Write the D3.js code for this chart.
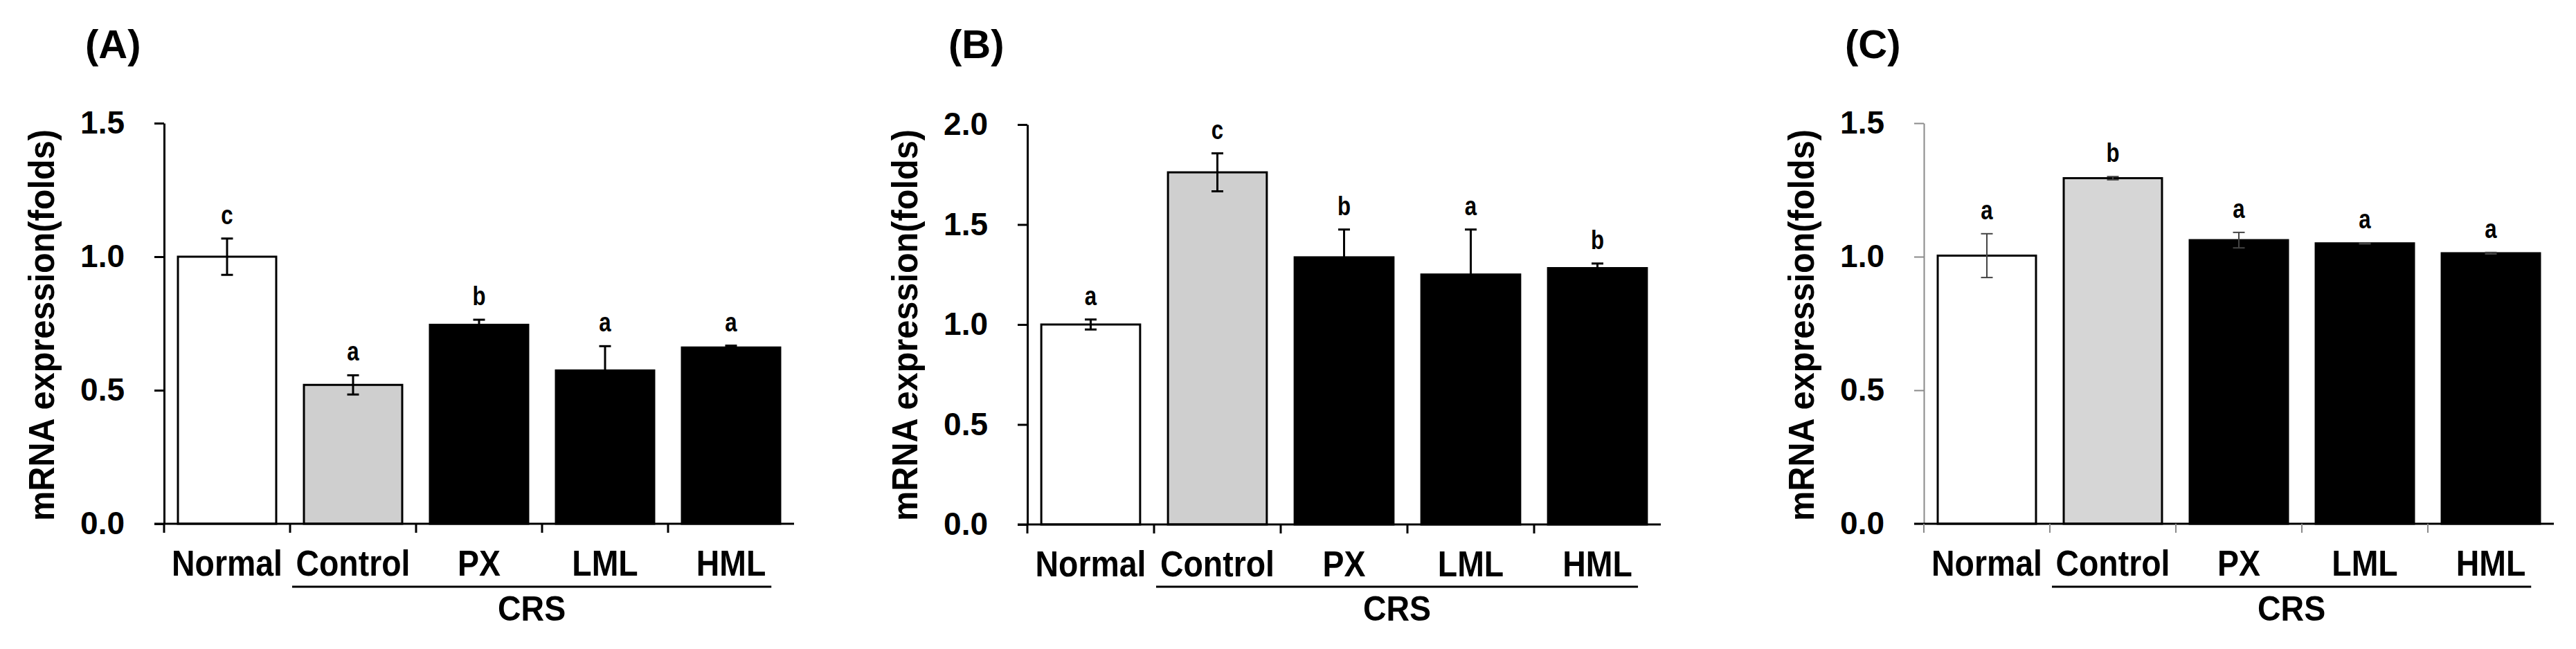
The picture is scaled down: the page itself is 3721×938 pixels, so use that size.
<!DOCTYPE html>
<html>
<head>
<meta charset="utf-8">
<script src="https://cdn.jsdelivr.net/npm/d3@7"></script>
<style>
  body { margin: 0; background: #fff; }
  text { font-family: "Liberation Sans", Arial, sans-serif; font-weight: bold; fill: #000; }
</style>
</head>
<body>
<div id="chart"></div>
<script>
// Données
const groups = ["Normal", "Control", "PX", "LML", "HML"];
const fills = ["#ffffff", "#d0d0d0", "#000000", "#000000", "#000000"];

const meanA = [1.00, 0.52, 0.745, 0.574, 0.66];
const errA = [0.068, 0.036, 0.019, 0.091, 0.007];
const letterA = ["c", "a", "b", "a", "a"];

const meanB = [1.00, 1.761, 1.336, 1.25, 1.282];
const errB = [0.025, 0.095, 0.139, 0.225, 0.023];
const letterB = ["a", "c", "b", "a", "b"];

const meanC = [1.004, 1.294, 1.062, 1.05, 1.013];
const errC = [0.082, 0.006, 0.029, 0.002, 0.003];
const letterC = ["a", "b", "a", "a", "a"];

const ticksA = [0, 0.5, 1.0, 1.5];
const ticksB = [0, 0.5, 1.0, 1.5, 2.0];
const ticksC = [0, 0.5, 1.0, 1.5];

const W = 3721, H = 938;

const svg = d3.select("#chart").append("svg")
    .attr("width", W)
    .attr("height", H);

svg.append("rect").attr("width", W).attr("height", H).attr("fill", "#fff");

const panels = [
    {label: "(A)", x0: 237, w: 910, y0: 757, y1: 178, max: 1.5, ticks: ticksA,
     mean: meanA, err: errA, letters: letterA, axisColor: "#000", axisW: 3, errColor: "#000", errW: 3, gray: "#cfcfcf"},
    {label: "(B)", x0: 1484, w: 915, y0: 758, y1: 180, max: 2.0, ticks: ticksB,
     mean: meanB, err: errB, letters: letterB, axisColor: "#000", axisW: 3, errColor: "#000", errW: 3, gray: "#cfcfcf"},
    {label: "(C)", x0: 2779, w: 910, y0: 757, y1: 178, max: 1.5, ticks: ticksC,
     mean: meanC, err: errC, letters: letterC, axisColor: "#8a8a8a", axisW: 2, errColor: "#444", errW: 2, gray: "#d6d6d6"}
];

panels.forEach(drawPanel);

// texte un peu condensé comme dans la figure d'origine
function squeeze(sel, k) {
    sel.each(function() {
        const len = this.getComputedTextLength();
        d3.select(this)
            .attr("textLength", len * k)
            .attr("lengthAdjust", "spacingAndGlyphs");
    });
}

function drawPanel(p) {
    const g = svg.append("g");

    const x = d3.scaleBand()
        .domain(groups)
        .range([p.x0, p.x0 + p.w])
        .padding(0);
    const bw = x.bandwidth();
    const barW = bw * 0.78;

    const y = d3.scaleLinear()
        .domain([0, p.max])
        .range([p.y0, p.y1]);

    const data = groups.map((k, i) => ({
        name: k, mean: p.mean[i], err: p.err[i], letter: p.letters[i], fill: i === 1 ? p.gray : fills[i]
    }));

    // Barres
    g.selectAll(".bar")
        .data(data)
        .enter().append("rect")
        .attr("x", d => x(d.name) + (bw - barW) / 2)
        .attr("y", d => y(d.mean))
        .attr("width", barW)
        .attr("height", d => y(0) - y(d.mean))
        .attr("fill", d => d.fill)
        .attr("stroke", "#000")
        .attr("stroke-width", 3);

    // Barres d'erreur
    const eb = g.selectAll(".err")
        .data(data)
        .enter().append("g")
        .attr("stroke", p.errColor)
        .attr("stroke-width", p.errW);
    eb.append("line")
        .attr("x1", d => x(d.name) + bw / 2)
        .attr("x2", d => x(d.name) + bw / 2)
        .attr("y1", d => y(d.mean + d.err))
        .attr("y2", d => y(d.mean - d.err));
    eb.append("line")
        .attr("x1", d => x(d.name) + bw / 2 - 8.5)
        .attr("x2", d => x(d.name) + bw / 2 + 8.5)
        .attr("y1", d => y(d.mean + d.err))
        .attr("y2", d => y(d.mean + d.err));
    eb.append("line")
        .attr("x1", d => x(d.name) + bw / 2 - 8.5)
        .attr("x2", d => x(d.name) + bw / 2 + 8.5)
        .attr("y1", d => y(d.mean - d.err))
        .attr("y2", d => y(d.mean - d.err));

    // Lettres de significativité
    g.selectAll(".letter")
        .data(data)
        .enter().append("text")
        .attr("x", d => x(d.name) + bw / 2)
        .attr("y", d => y(d.mean + d.err) - 21)
        .attr("text-anchor", "middle")
        .style("font-size", "38px")
        .text(d => d.letter)
        .call(squeeze, 0.82);

    // Axe Y
    const yAxis = d3.axisLeft(y)
        .tickValues(p.ticks)
        .tickFormat(d3.format(".1f"))
        .tickSize(14)
        .tickSizeOuter(0)
        .tickPadding(43);
    const ya = g.append("g")
        .attr("transform", `translate(${p.x0},0)`)
        .call(yAxis);
    ya.select(".domain").attr("stroke", p.axisColor).attr("stroke-width", p.axisW);
    ya.selectAll(".tick line").attr("stroke", p.axisColor).attr("stroke-width", p.axisW);
    ya.selectAll(".tick text")
        .attr("fill", "#000")
        .style("font-family", "'Liberation Sans', Arial, sans-serif")
        .style("font-weight", "bold")
        .style("font-size", "46px");

    // Axe X
    g.append("line")
        .attr("x1", p.x0 - 14).attr("x2", p.x0 + p.w)
        .attr("y1", y(0)).attr("y2", y(0))
        .attr("stroke", "#000").attr("stroke-width", 3);
    g.selectAll(".xtick")
        .data(groups)
        .enter().append("line")
        .attr("x1", d => x(d)).attr("x2", d => x(d))
        .attr("y1", y(0)).attr("y2", y(0) + 13)
        .attr("stroke", p.axisColor).attr("stroke-width", p.axisW);
    g.selectAll(".xlab")
        .data(groups)
        .enter().append("text")
        .attr("x", d => x(d) + bw / 2)
        .attr("y", y(0) + 75)
        .attr("text-anchor", "middle")
        .style("font-size", "51px")
        .text(d => d)
        .call(squeeze, 0.91);

    // CRS
    const cx1 = x("Control") + 3, cx2 = x("HML") + bw * 0.82;
    g.append("line")
        .attr("x1", cx1).attr("x2", cx2)
        .attr("y1", 848).attr("y2", 848)
        .attr("stroke", "#000").attr("stroke-width", 3);
    g.append("text")
        .attr("x", (cx1 + cx2) / 2)
        .attr("y", 897)
        .attr("text-anchor", "middle")
        .style("font-size", "50px")
        .text("CRS")
        .call(squeeze, 0.93);

    // Titre de l'axe Y
    g.append("text")
        .attr("transform", `translate(${p.x0 - 159},470) rotate(-90)`)
        .attr("text-anchor", "middle")
        .attr("textLength", 566)
        .attr("lengthAdjust", "spacingAndGlyphs")
        .style("font-size", "52px")
        .text("mRNA expression(folds)");

    // Étiquette du panneau
    g.append("text")
        .attr("x", p.x0 - 114)
        .attr("y", 84)
        .style("font-size", "58px")
        .text(p.label);
}
</script>
</body>
</html>
